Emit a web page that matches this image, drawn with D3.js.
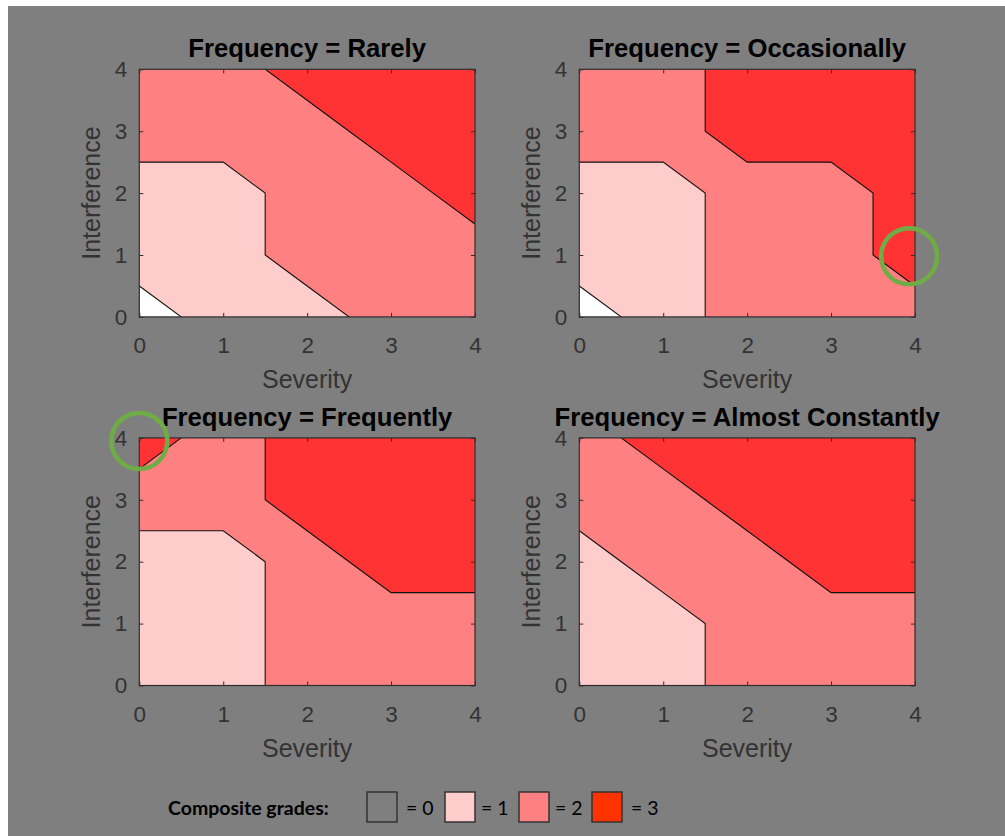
<!DOCTYPE html>
<html>
<head>
<meta charset="utf-8">
<script src="https://cdn.jsdelivr.net/npm/d3@7"></script>
<style>
  html, body { margin: 0; padding: 0; background: #ffffff; }
  svg { display: block; }
</style>
</head>
<body>
<svg id="chart" width="1005" height="836"></svg>
<script>
// Axis ticks shared by every panel
const severityTicks = [0, 1, 2, 3, 4];
const interferenceTicks = [0, 1, 2, 3, 4];

// Panel titles
const frequencies = ["Rarely", "Occasionally", "Frequently", "Almost Constantly"];

// Composite grade on the Severity x Interference grid.
// Each row is one Interference value (0..4), each column one Severity value (0..4).
const gradesRarely = [
  [0, 1, 1, 2, 2],
  [1, 1, 2, 2, 2],
  [1, 1, 2, 2, 3],
  [2, 2, 2, 3, 3],
  [2, 2, 3, 3, 3]
];
const gradesOccasionally = [
  [0, 1, 2, 2, 2],
  [1, 1, 2, 2, 3],
  [1, 1, 2, 2, 3],
  [2, 2, 3, 3, 3],
  [2, 2, 3, 3, 3]
];
const gradesFrequently = [
  [1, 1, 2, 2, 2],
  [1, 1, 2, 2, 2],
  [1, 1, 2, 3, 3],
  [2, 2, 3, 3, 3],
  [3, 2, 3, 3, 3]
];
const gradesAlmostConstantly = [
  [1, 1, 2, 2, 2],
  [1, 1, 2, 2, 2],
  [1, 2, 2, 3, 3],
  [2, 2, 3, 3, 3],
  [2, 3, 3, 3, 3]
];

// Contour levels separating grades 0|1, 1|2, 2|3
const gradeLevels = [0.5, 1.5, 2.5];
const gradeFills = ["#ffffff", "#ffcccc", "#ff8080", "#ff3333"];

// Legend entries
const legendGrades = [0, 1, 2, 3];
const legendFills = ["none", "#ffcccc", "#ff8080", "#ff3300"];
const legendTitle = "Composite grades:";

// Highlighted spots: [panel index, severity, interference]
const highlights = [
  [1, 3.93, 0.98],
  [2, 0.0, 3.95]
];

const gradeSets = [gradesRarely, gradesOccasionally, gradesFrequently, gradesAlmostConstantly];

const svg = d3.select("#chart");

// Gray page background
svg.append("rect")
  .attr("x", 8).attr("y", 6)
  .attr("width", 997).attr("height", 830)
  .attr("fill", "#7f7f7f");

const plotW = 335.7, plotH = 247.6;
const origins = [
  [139.3, 69.3], [579.3, 69.3],
  [139.3, 437.9], [579.3, 437.9]
];
const axisInk = "#2e2e2e";
const sans = "'Liberation Sans', Arial, sans-serif";

const contourGen = d3.contours().size([5, 5]).thresholds(gradeLevels);

const panelScales = [];

frequencies.forEach((freq, i) => {
  const [ox, oy] = origins[i];
  const x = d3.scaleLinear().domain([0, 4]).range([0, plotW]);
  const y = d3.scaleLinear().domain([0, 4]).range([plotH, 0]);
  panelScales.push({ox, oy, x, y});

  const g = svg.append("g").attr("transform", `translate(${ox},${oy})`);

  const clipId = "clip" + i;
  g.append("clipPath").attr("id", clipId)
    .append("rect").attr("width", plotW).attr("height", plotH);

  // grid value (row j, column k) sits at contour coordinate (k + 0.5, j + 0.5)
  const projection = d3.geoTransform({
    point: function (gx, gy) { this.stream.point(x(gx - 0.5), y(gy - 0.5)); }
  });
  const path = d3.geoPath(projection);

  const flat = gradeSets[i].flat();
  const bands = contourGen(flat);

  const plot = g.append("g").attr("clip-path", `url(#${clipId})`);
  plot.append("rect")
    .attr("width", plotW).attr("height", plotH)
    .attr("fill", gradeFills[0]);

  plot.selectAll("path.band")
    .data(bands)
    .join("path")
    .attr("class", "band")
    .attr("d", path)
    .attr("fill", (d, k) => gradeFills[k + 1])
    .attr("stroke", "none");

  plot.selectAll("path.iso")
    .data(bands)
    .join("path")
    .attr("class", "iso")
    .attr("d", path)
    .attr("fill", "none")
    .attr("stroke", "#111")
    .attr("stroke-width", 1.1);

  // Axes with inward ticks on all four sides
  const styleAxis = sel => {
    sel.select(".domain").remove();
    sel.selectAll(".tick line").attr("stroke", axisInk).attr("stroke-width", 1);
    sel.selectAll(".tick text")
      .attr("fill", "#333")
      .style("font-family", sans)
      .style("font-size", "22.5px");
  };

  g.append("g")
    .attr("transform", `translate(0,${plotH})`)
    .call(d3.axisBottom(x).tickValues(severityTicks).tickSizeInner(-4).tickSizeOuter(0).tickPadding(20.5).tickFormat(d3.format("d")))
    .call(styleAxis);
  g.append("g")
    .call(d3.axisTop(x).tickValues(severityTicks).tickSizeInner(-4).tickSizeOuter(0).tickFormat(""))
    .call(styleAxis);
  g.append("g")
    .call(d3.axisLeft(y).tickValues(interferenceTicks).tickSizeInner(-4).tickSizeOuter(0).tickPadding(12).tickFormat(d3.format("d")))
    .call(styleAxis);
  g.append("g")
    .attr("transform", `translate(${plotW},0)`)
    .call(d3.axisRight(y).tickValues(interferenceTicks).tickSizeInner(-4).tickSizeOuter(0).tickFormat(""))
    .call(styleAxis);

  g.append("rect")
    .attr("width", plotW).attr("height", plotH)
    .attr("fill", "none")
    .attr("stroke", axisInk)
    .attr("stroke-width", 1.2);

  // Title
  g.append("text")
    .attr("x", plotW / 2).attr("y", -12)
    .attr("text-anchor", "middle")
    .style("font-family", sans)
    .style("font-size", "25.7px")
    .style("font-weight", "bold")
    .attr("fill", "#000")
    .text(`Frequency = ${freq}`);

  // Axis labels
  g.append("text")
    .attr("x", plotW / 2).attr("y", plotH + 71.5)
    .attr("text-anchor", "middle")
    .style("font-family", sans)
    .style("font-size", "25px")
    .attr("fill", "#333")
    .text("Severity");

  g.append("text")
    .attr("transform", `translate(-39,${plotH / 2}) rotate(-90)`)
    .attr("text-anchor", "middle")
    .style("font-family", sans)
    .style("font-size", "25px")
    .attr("fill", "#333")
    .text("Interference");
});

// Green highlight rings
highlights.forEach(([p, sv, itf]) => {
  const s = panelScales[p];
  svg.append("circle")
    .attr("cx", s.ox + s.x(sv))
    .attr("cy", s.oy + s.y(itf))
    .attr("r", 28)
    .attr("fill", "none")
    .attr("stroke", "#6fac46")
    .attr("stroke-width", 4.5);
});

// Legend
const legend = svg.append("g");
const legendFont = "Lato, 'Open Sans', sans-serif";
legend.append("text")
  .attr("x", 168).attr("y", 815)
  .style("font-family", legendFont)
  .style("font-size", "19.5px")
  .style("font-weight", "bold")
  .attr("fill", "#000")
  .text(legendTitle);

const boxX = [367, 445, 519, 592];
const labelX = [406, 481, 555, 631];
legendGrades.forEach((gr, k) => {
  legend.append("rect")
    .attr("x", boxX[k]).attr("y", 792)
    .attr("width", 30).attr("height", 30)
    .attr("fill", legendFills[k])
    .attr("stroke", "#333")
    .attr("stroke-width", 1.5);
  legend.append("text")
    .attr("x", labelX[k]).attr("y", 815)
    .style("font-family", legendFont)
    .style("font-size", "19.5px")
    .attr("fill", "#000")
    .text(`= ${gr}`);
});
</script>
</body>
</html>
